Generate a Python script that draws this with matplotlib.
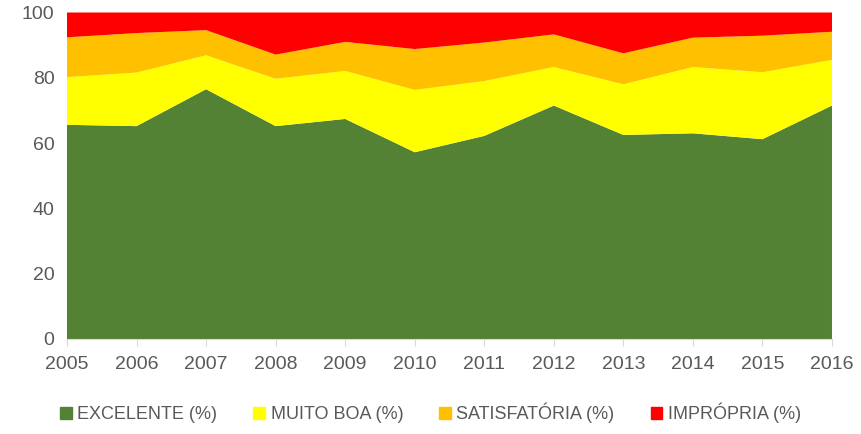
import matplotlib.pyplot as plt
from matplotlib.patches import Patch

# ==============================================================================
# DATA
# ==============================================================================
years = [2005, 2006, 2007, 2008, 2009, 2010, 2011, 2012, 2013, 2014, 2015, 2016]
excelente = [65.6, 65.2, 76.5, 65.2, 67.4, 57.2, 62.2, 71.5, 62.5, 63.0, 61.2, 71.5]
muito_boa = [14.6, 16.4, 10.4, 14.5, 14.7, 19.1, 16.8, 11.8, 15.5, 20.3, 20.5, 14.0]
satisfatoria = [12.2, 12.1, 7.7, 7.4, 8.9, 12.5, 11.8, 10.0, 9.5, 9.0, 11.2, 8.6]
impropria = [7.6, 6.3, 5.4, 12.9, 9.0, 11.2, 9.2, 6.7, 12.5, 7.7, 7.1, 5.9]

labels = ["EXCELENTE (%)", "MUITO BOA (%)", "SATISFATÓRIA (%)", "IMPRÓPRIA (%)"]
colors = ["#548235", "#FFFF00", "#FFC000", "#FF0000"]
TEXT = "#595959"

plt.rcParams['font.family'] = ['Liberation Sans', 'DejaVu Sans']

fig = plt.figure(figsize=(8.61, 4.34), dpi=100)
ax = fig.add_axes([0.0778, 0.2189, 0.8885, 0.7523])

ax.stackplot(years, excelente, muito_boa, satisfatoria, impropria,
             colors=colors, linewidth=0)

ax.set_xlim(years[0], years[-1])
ax.set_ylim(0, 100)
ax.set_xticks(years)
ax.set_yticks([0, 20, 40, 60, 80, 100])

for s in ["top", "right", "left"]:
    ax.spines[s].set_visible(False)
ax.spines["bottom"].set_color("#D9D9D9")
ax.tick_params(axis="x", colors="#D9D9D9", length=5, labelcolor=TEXT,
               labelsize=14, pad=7)
ax.tick_params(axis="y", length=0, labelcolor=TEXT, labelsize=14, pad=9)

handles = [Patch(color=c) for c in colors]
fig.legend(handles, labels, loc="center", ncol=4, bbox_to_anchor=(0.5, 0.048),
           frameon=False, fontsize=13, labelcolor=TEXT,
           handlelength=0.65, handleheight=0.65, handletextpad=0.3,
           columnspacing=2.0)

fig.savefig("out.png", dpi=100)
